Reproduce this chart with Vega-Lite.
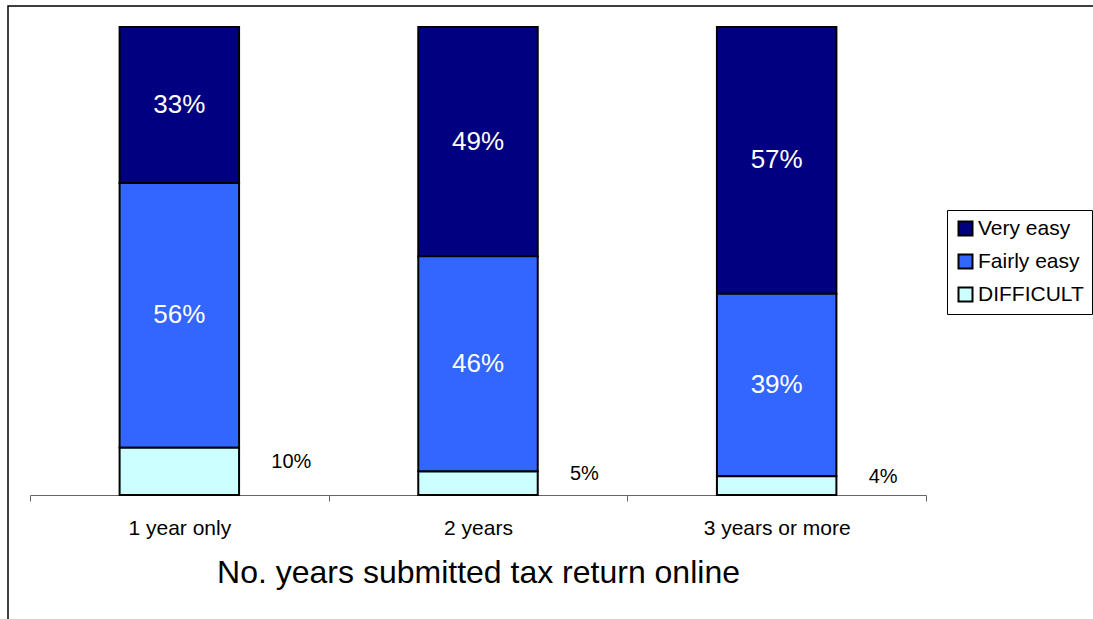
{
  "$schema": "https://vega.github.io/schema/vega-lite/v6.json",
  "autosize": {"type": "none"},
  "width": 1085,
  "height": 613,
  "padding": {"left": 8, "top": 6, "right": 0, "bottom": 0},
  "background": "white",
  "config": {
    "font": "Liberation Sans",
    "view": {"stroke": "black", "strokeWidth": 1.5, "strokeDash": [1085, 1698, 613, 10]}
  },
  "data": {
    "values": [
      {"years": "1 year only", "response": "Very easy", "share": 0.33},
      {"years": "1 year only", "response": "Fairly easy", "share": 0.56},
      {"years": "1 year only", "response": "DIFFICULT", "share": 0.10},
      {"years": "2 years", "response": "Very easy", "share": 0.49},
      {"years": "2 years", "response": "Fairly easy", "share": 0.46},
      {"years": "2 years", "response": "DIFFICULT", "share": 0.05},
      {"years": "3 years or more", "response": "Very easy", "share": 0.57},
      {"years": "3 years or more", "response": "Fairly easy", "share": 0.39},
      {"years": "3 years or more", "response": "DIFFICULT", "share": 0.04}
    ]
  },
  "transform": [
    {"stack": "share", "groupby": ["years"], "sort": [{"field": "response", "order": "ascending"}], "offset": "normalize", "as": ["y0", "y1"]}
  ],
  "encoding": {
    "x": {
      "field": "years",
      "type": "nominal",
      "sort": ["1 year only", "2 years", "3 years or more"],
      "scale": {"range": [22, 918], "paddingInner": 0, "paddingOuter": 0},
      "axis": {
        "title": "No. years submitted tax return online",
        "orient": "bottom",
        "offset": -124,
        "labelAngle": 0,
        "labelFontSize": 21,
        "labelColor": "black",
        "labelPadding": 16,
        "tickBand": "extent",
        "tickSize": 6,
        "tickColor": "#666666",
        "domainColor": "#666666",
        "domainWidth": 1,
        "titleFontSize": 32,
        "titleFontWeight": "normal",
        "titleColor": "black",
        "titleY": 62,
        "titleBaseline": "top"
      }
    }
  },
  "layer": [
    {
      "mark": {"type": "bar", "width": {"band": 0.4}, "stroke": "black", "strokeWidth": 2},
      "encoding": {
        "y": {"field": "y1", "type": "quantitative", "scale": {"domain": [0, 1], "range": [489, 21], "nice": false, "zero": false}, "axis": null},
        "y2": {"field": "y0"},
        "color": {
          "field": "response",
          "type": "nominal",
          "scale": {"domain": ["Very easy", "Fairly easy", "DIFFICULT"], "range": ["#000080", "#3366FF", "#CCFFFF"]},
          "legend": {
            "title": null,
            "orient": "none",
            "legendX": 939,
            "legendY": 204,
            "strokeColor": "black",
            "fillColor": "white",
            "padding": 8,
            "labelFontSize": 21,
            "labelColor": "black",
            "labelOffset": 2,
            "rowPadding": 10,
            "symbolType": "square",
            "symbolSize": 196,
            "symbolStrokeColor": "black",
            "symbolStrokeWidth": 2,
            "symbolOpacity": 1
          }
        }
      }
    },
    {
      "transform": [
        {"fold": ["y0", "y1"], "as": ["edge", "pos"]},
        {"aggregate": [{"op": "mean", "field": "pos", "as": "mid"}], "groupby": ["years", "response", "share"]},
        {"filter": "datum.response !== 'DIFFICULT'"}
      ],
      "mark": {"type": "text", "color": "white", "fontSize": 26, "align": "center", "baseline": "middle"},
      "encoding": {
        "y": {"field": "mid", "type": "quantitative"},
        "text": {"field": "share", "type": "quantitative", "format": ".0%"}
      }
    },
    {
      "transform": [
        {"fold": ["y0", "y1"], "as": ["edge", "pos"]},
        {"aggregate": [{"op": "mean", "field": "pos", "as": "mid"}], "groupby": ["years", "response", "share"]},
        {"filter": "datum.response === 'DIFFICULT'"}
      ],
      "mark": {"type": "text", "color": "black", "fontSize": 20, "align": "left", "baseline": "middle", "dx": 92, "dy": -9},
      "encoding": {
        "y": {"field": "mid", "type": "quantitative"},
        "text": {"field": "share", "type": "quantitative", "format": ".0%"}
      }
    }
  ]
}
